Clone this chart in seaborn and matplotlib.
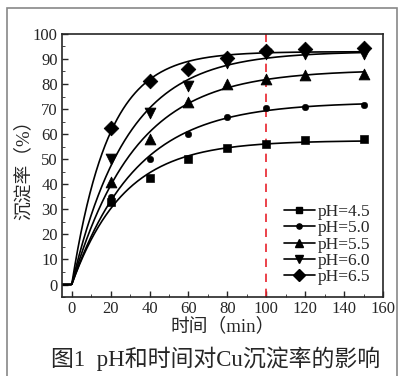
import numpy as np
import pandas as pd
import matplotlib.pyplot as plt
import seaborn as sns
from matplotlib.lines import Line2D
from matplotlib.patches import Rectangle
from matplotlib.ticker import MultipleLocator

# reaction time (min) and Cu precipitation rate (%)
time = [20, 40, 60, 80, 100, 120, 150]
ph_labels = ["pH=4.5", "pH=5.0", "pH=5.5", "pH=6.0", "pH=6.5"]
ph45 = [33, 42.5, 50, 54.5, 56, 57.5, 58]
ph50 = [35, 50, 60, 67, 70.5, 71, 71.5]
ph55 = [41, 58, 73, 80, 82, 83.5, 84]
ph60 = [50, 68.5, 79, 88.5, 92, 92, 92]
ph65 = [62.5, 81, 86, 90.5, 93, 94, 94.5]
series = [ph45, ph50, ph55, ph60, ph65]
markers = ["s", "o", "^", "v", "D"]
msizes = [32, 22, 60, 60, 55]

df = pd.DataFrame({
    "t": np.tile(time, len(series)),
    "rate": np.concatenate(series),
    "pH": np.repeat(ph_labels, len(time)),
})

sns.set_style("ticks")
plt.rcParams["font.family"] = ["Liberation Serif", "Noto Sans CJK SC"]
plt.rcParams["xtick.direction"] = "in"
plt.rcParams["ytick.direction"] = "in"

fig = plt.figure(figsize=(4, 3.76), dpi=100)
ax = fig.add_axes([0.155, 0.21, 0.8025, 0.7])

# first-order fit y = a(1 - exp(-k t)) for the smooth curves
tt = np.linspace(-5, 150, 400)
ks = np.linspace(0.005, 0.2, 2000)
t_arr = np.array(time, dtype=float)
handles = []
for lab, ys, m, s in zip(ph_labels, series, markers, msizes):
    y = np.array(ys, dtype=float)
    best = None
    for k in ks:
        b = 1 - np.exp(-k * t_arr)
        a = b @ y / (b @ b)
        err = np.sum((a * b - y) ** 2)
        if best is None or err < best[0]:
            best = (err, a, k)
    _, a, k = best
    fit = a * (1 - np.exp(-k * np.clip(tt, 0, None)))
    sns.lineplot(x=tt, y=fit, ax=ax, color="black", linewidth=1.2)
    sns.scatterplot(data=df[df["pH"] == lab], x="t", y="rate", ax=ax,
                    marker=m, s=s, color="black", edgecolor="black", zorder=3)
    handles.append(Line2D([], [], color="black", marker=m, lw=1.2,
                          markersize=np.sqrt(s) * 0.8, label=lab))

ax.axvline(100, color="#e8212b", linestyle=(0, (5, 4)), linewidth=1.2)

ax.set_xlim(-5, 160)
ax.set_ylim(-5, 100)
ax.xaxis.set_major_locator(MultipleLocator(20))
ax.xaxis.set_minor_locator(MultipleLocator(10))
ax.yaxis.set_major_locator(MultipleLocator(10))
ax.yaxis.set_minor_locator(MultipleLocator(5))
ax.tick_params(labelsize=12, length=4, width=1, pad=3)
ax.tick_params(which="minor", length=2.5)
for sp in ax.spines.values():
    sp.set_linewidth(1.2)
ax.set_xlabel("时间（min）", fontsize=13.5, labelpad=0)
ax.set_ylabel("沉淀率（%）", fontsize=13.5, labelpad=0)

ax.legend(handles=handles, loc="lower right", frameon=False, fontsize=12.5,
          handlelength=1.8, handletextpad=0.2, labelspacing=0.0,
          borderaxespad=0.3)

fig.text(0.54, 0.047, "图1  pH和时间对Cu沉淀率的影响", ha="center", va="center",
         fontsize=16.5)
fig.patches.append(Rectangle((0.018, -0.1), 0.975, 1.078,
                             transform=fig.transFigure, fill=False,
                             edgecolor="#888888", linewidth=1.2))

fig.savefig("out.png", dpi=100)
